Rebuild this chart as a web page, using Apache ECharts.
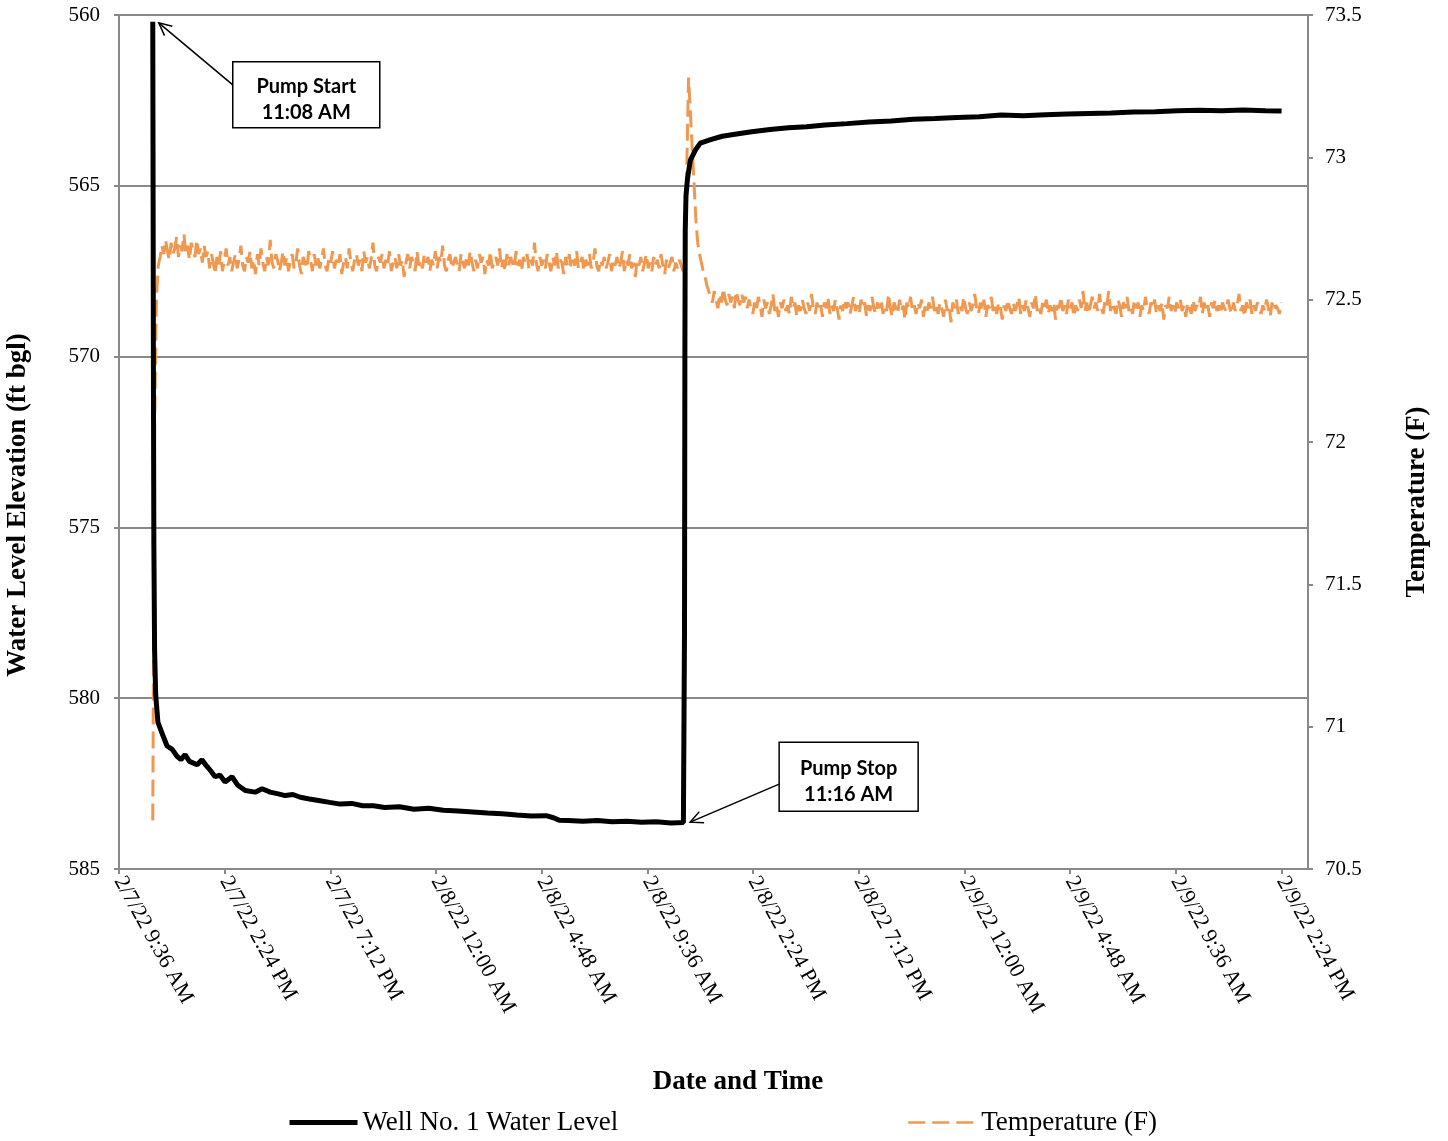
<!DOCTYPE html>
<html>
<head>
<meta charset="utf-8">
<script src="https://cdn.jsdelivr.net/npm/echarts@6/dist/echarts.min.js"></script>
<style>
  html, body { margin: 0; padding: 0; background: #fff; }
  #main { width: 1448px; height: 1141px; }
</style>
</head>
<body>
<div id="main"></div>
<script>
// time in minutes after 2/7/22 12:00 AM
var levelTime = [668, 669, 670, 671, 673, 676, 682, 696, 707, 721, 734, 745, 756, 768, 789, 802, 812, 824, 838, 851,
  865, 884, 900, 920, 947, 966, 988, 1010, 1029, 1050, 1070, 1095, 1124, 1150, 1179, 1210, 1240, 1270, 1300, 1340,
  1380, 1420, 1460, 1500, 1540, 1580, 1620, 1660, 1700, 1740, 1760, 1775, 1800, 1840, 1880, 1920, 1960, 2000, 2040, 2080,
  2114, 2116, 2117, 2118, 2119, 2121, 2125, 2133, 2147, 2160, 2188, 2220, 2250, 2300, 2350, 2400, 2450, 2500, 2560, 2620,
  2680, 2740, 2800, 2860, 2920, 2980, 3040, 3100, 3160, 3220, 3280, 3340, 3400, 3460, 3520, 3580, 3640, 3700, 3744];
var levelValue = [560.2, 565.5, 571.5, 575.5, 578.6, 579.9, 580.7, 581.1, 581.4, 581.5, 581.7, 581.8, 581.65, 581.85, 581.95, 581.8, 581.95, 582.1, 582.3, 582.25,
  582.45, 582.3, 582.55, 582.7, 582.75, 582.65, 582.75, 582.8, 582.85, 582.82, 582.9, 582.95, 583.0, 583.05, 583.1, 583.08, 583.15, 583.15, 583.2, 583.18,
  583.25, 583.22, 583.28, 583.3, 583.33, 583.36, 583.38, 583.42, 583.45, 583.44, 583.5, 583.57, 583.58, 583.6, 583.58, 583.62, 583.6, 583.63, 583.62, 583.65,
  583.64, 583.6, 578.0, 570.0, 566.3, 565.3, 564.8, 564.25, 563.95, 563.75, 563.65, 563.55, 563.5, 563.42, 563.35, 563.3, 563.27, 563.22, 563.18, 563.13,
  563.1, 563.05, 563.03, 563.0, 562.98, 562.93, 562.95, 562.92, 562.9, 562.88, 562.87, 562.84, 562.83, 562.8, 562.79, 562.8, 562.78, 562.8, 562.81];

// temperature logger: first reading at 11:08 AM, one reading every 5 minutes
var tempStart = 668;
var tempStep = 5;
var tempValue = [70.67, 72.05, 72.50, 72.62,
  72.65, 72.69, 72.66, 72.71, 72.67, 72.64, 72.70, 72.66, 72.68, 72.72, 72.65, 72.69, 72.67, 72.73, 72.66, 72.69, 72.64, 72.70, 72.67, 72.65,
  72.71, 72.66, 72.68, 72.63, 72.69, 72.65, 72.67,
  72.61, 72.66, 72.63, 72.59, 72.65, 72.62, 72.67, 72.60, 72.64, 72.68, 72.62, 72.65, 72.60, 72.63, 72.66, 72.61, 72.64, 72.69, 72.62, 72.60,
  72.65, 72.63, 72.67, 72.61, 72.64, 72.59, 72.66, 72.62, 72.68, 72.63, 72.60, 72.65, 72.62, 72.71, 72.63, 72.61, 72.66, 72.64, 72.60, 72.63,
  72.67, 72.62, 72.65, 72.60, 72.64, 72.66, 72.61, 72.63, 72.68, 72.62, 72.59, 72.65, 72.63, 72.61, 72.67, 72.64, 72.60, 72.66, 72.62, 72.65,
  72.61, 72.64, 72.68, 72.62, 72.60, 72.65, 72.63, 72.67, 72.61, 72.64, 72.62, 72.66, 72.59, 72.63, 72.65, 72.61, 72.68, 72.63, 72.60, 72.64,
  72.66, 72.62, 72.64, 72.60, 72.67, 72.63, 72.65, 72.61, 72.64, 72.70, 72.62, 72.60, 72.65, 72.63, 72.66, 72.61, 72.64, 72.62, 72.67, 72.60,
  72.63, 72.65, 72.61, 72.66, 72.62, 72.64, 72.58, 72.63, 72.66, 72.61, 72.65, 72.63, 72.60, 72.67, 72.62, 72.64, 72.61, 72.66, 72.63, 72.65,
  72.60, 72.64, 72.62, 72.67, 72.61, 72.65, 72.63, 72.69, 72.62, 72.60, 72.64, 72.66, 72.61, 72.63, 72.65, 72.62, 72.60, 72.66, 72.63, 72.61,
  72.65, 72.62, 72.67, 72.63, 72.60, 72.64, 72.61, 72.66, 72.63, 72.65, 72.59, 72.64, 72.62, 72.67, 72.61, 72.63, 72.65, 72.62, 72.68, 72.61,
  72.64, 72.60, 72.66, 72.62, 72.65, 72.63, 72.61, 72.67, 72.62, 72.64, 72.60, 72.65, 72.63, 72.66, 72.61, 72.64, 72.62, 72.70, 72.63, 72.60,
  72.65, 72.62, 72.64, 72.61, 72.66, 72.63, 72.60, 72.65, 72.62, 72.67, 72.61, 72.64, 72.63, 72.59, 72.65, 72.62, 72.66, 72.61, 72.64, 72.62,
  72.67, 72.61, 72.63, 72.65, 72.60, 72.64, 72.62, 72.66, 72.61, 72.63, 72.68, 72.62, 72.60, 72.64, 72.62, 72.65, 72.61, 72.63, 72.66, 72.60,
  72.64, 72.62, 72.65, 72.61, 72.63, 72.67, 72.60, 72.64, 72.62, 72.66, 72.61, 72.63, 72.58, 72.64, 72.62, 72.65, 72.60, 72.63, 72.66, 72.61,
  72.63, 72.60, 72.65, 72.62, 72.64, 72.61, 72.66, 72.62, 72.59, 72.64, 72.61, 72.63, 72.65, 72.60, 72.63, 72.61, 72.64, 72.62, 72.60,
  72.62,
  72.95, 73.28, 73.16, 73.03, 72.91, 72.78, 72.70, 72.66, 72.63, 72.60, 72.58, 72.55, 72.53, 72.51,
  72.49, 72.53, 72.50, 72.47, 72.52, 72.49, 72.54, 72.50, 72.48, 72.52, 72.49, 72.51, 72.47, 72.53, 72.50, 72.48, 72.52, 72.49, 72.51, 72.47,
  72.50, 72.47, 72.45, 72.49, 72.46, 72.51, 72.48, 72.44, 72.50, 72.47, 72.49, 72.45, 72.48, 72.52, 72.46, 72.48, 72.44, 72.49, 72.47, 72.50,
  72.46, 72.48, 72.45, 72.51, 72.47, 72.49, 72.44, 72.48, 72.46, 72.50, 72.47, 72.45, 72.49, 72.46, 72.52, 72.47, 72.45, 72.49, 72.46, 72.48,
  72.44, 72.49, 72.47, 72.51, 72.45, 72.48, 72.46, 72.50, 72.47, 72.43, 72.48, 72.46, 72.50, 72.47, 72.49, 72.45, 72.48, 72.51, 72.46, 72.48,
  72.45, 72.50, 72.47, 72.49, 72.44, 72.48, 72.46, 72.51, 72.47, 72.45, 72.49, 72.47, 72.50, 72.45, 72.48, 72.46, 72.52, 72.47, 72.44, 72.49,
  72.47, 72.45, 72.50, 72.46, 72.48, 72.43, 72.49, 72.47, 72.51, 72.46, 72.48, 72.45, 72.49, 72.47, 72.50, 72.44, 72.48, 72.46, 72.49, 72.47,
  72.51, 72.46, 72.48, 72.45, 72.49, 72.47, 72.44, 72.50, 72.46, 72.48, 72.42, 72.49, 72.47, 72.50, 72.45, 72.48, 72.46, 72.51, 72.47, 72.45,
  72.49, 72.46, 72.48, 72.52, 72.47, 72.45, 72.49, 72.46, 72.50, 72.44, 72.48, 72.47, 72.51, 72.46, 72.48, 72.45, 72.49, 72.47, 72.43, 72.48,
  72.46, 72.50, 72.47, 72.45, 72.49, 72.46, 72.48, 72.51, 72.45, 72.48, 72.46, 72.50, 72.47, 72.44, 72.49, 72.47, 72.52, 72.46, 72.48, 72.45,
  72.49, 72.47, 72.50, 72.45, 72.48, 72.46, 72.49, 72.43, 72.48, 72.47, 72.51, 72.46, 72.48, 72.45, 72.50, 72.47, 72.49, 72.44, 72.48, 72.46,
  72.50, 72.47, 72.53, 72.46, 72.49, 72.45, 72.48, 72.51, 72.47, 72.49, 72.46, 72.52, 72.47, 72.45, 72.50, 72.48, 72.53, 72.46, 72.49, 72.47,
  72.45, 72.50, 72.48, 72.44, 72.49, 72.47, 72.51, 72.46, 72.48, 72.45, 72.50, 72.47, 72.49, 72.44, 72.48, 72.46, 72.51, 72.47, 72.45, 72.49,
  72.47, 72.50, 72.45, 72.48, 72.46, 72.49, 72.43, 72.48, 72.47, 72.51, 72.46, 72.48, 72.45, 72.49, 72.47, 72.50, 72.46, 72.48, 72.44, 72.49,
  72.47, 72.45, 72.50, 72.46, 72.48, 72.47, 72.51, 72.45, 72.49, 72.46, 72.48, 72.44, 72.49, 72.47, 72.50, 72.46, 72.48, 72.45, 72.49, 72.47,
  72.46, 72.50, 72.47, 72.45, 72.49, 72.46, 72.48, 72.52, 72.46, 72.48, 72.44, 72.49, 72.47, 72.50, 72.45, 72.48, 72.46, 72.49, 72.47, 72.45,
  72.48, 72.46, 72.50, 72.47, 72.44, 72.49, 72.46, 72.48, 72.47, 72.45, 72.49];

// annotations: [label, time of day, time, level]
var notes = [
  ['Pump Start', '11:08 AM', 668, 560.2],
  ['Pump Stop', '11:16 AM', 2116, 583.6]
];

var serif = 'Liberation Serif';
var grey = '#898989';
var orange = '#F09850';

function fmtTime(m) {
  if (m % 288 !== 0) return '';
  var day = 7 + Math.floor(m / 1440);
  var mm = m % 1440;
  var h = Math.floor(mm / 60), mi = mm % 60;
  var ap = h < 12 ? 'AM' : 'PM';
  var h12 = h % 12 === 0 ? 12 : h % 12;
  return '2/' + day + '/22 ' + h12 + ':' + (mi < 10 ? '0' + mi : mi) + ' ' + ap;
}

var levelData = levelTime.map(function (t, i) { return [t, levelValue[i]]; });
var tempData = tempValue.map(function (v, i) { return [tempStart + i * tempStep, v]; });

var myChart = echarts.init(document.getElementById('main'));

var option = {
  animation: false,
  grid: { left: 119, right: 140, top: 15, bottom: 272 },
  xAxis: {
    type: 'value',
    min: 576,
    max: 3816,
    interval: 288,
    axisLine: { onZero: false, lineStyle: { color: grey, width: 2 } },
    axisTick: { show: true, length: 5, lineStyle: { color: grey, width: 2 } },
    axisLabel: {
      rotate: -61,
      margin: 9,
      color: '#000',
      fontFamily: serif,
      fontSize: 22,
      formatter: fmtTime,
      showMaxLabel: false
    },
    splitLine: { show: false }
  },
  yAxis: [{
    type: 'value',
    inverse: true,
    min: 560,
    max: 585,
    interval: 5,
    axisLine: { show: true, lineStyle: { color: grey, width: 2 } },
    axisTick: { show: true, length: 5, lineStyle: { color: grey, width: 2 } },
    axisLabel: { color: '#000', fontFamily: serif, fontSize: 21, margin: 19 },
    splitLine: { show: true, lineStyle: { color: grey, width: 2 } }
  }, {
    type: 'value',
    position: 'right',
    min: 70.5,
    max: 73.5,
    interval: 0.5,
    axisLine: { show: true, lineStyle: { color: grey, width: 2 } },
    axisTick: { show: true, length: 5, lineStyle: { color: grey, width: 2 } },
    axisLabel: { color: '#000', fontFamily: serif, fontSize: 21, margin: 17 },
    splitLine: { show: false }
  }],
  legend: [{
    data: ['Well No. 1 Water Level'],
    left: 282,
    top: 1104,
    itemWidth: 68,
    itemHeight: 14,
    itemStyle: { opacity: 0 },
    lineStyle: { width: 5 },
    textStyle: { fontFamily: serif, fontSize: 27, color: '#000' }
  }, {
    data: ['Temperature (F)'],
    left: 902,
    top: 1104,
    itemWidth: 68,
    itemHeight: 14,
    itemStyle: { opacity: 0 },
    lineStyle: { width: 2.5, type: [17, 7] },
    textStyle: { fontFamily: serif, fontSize: 27, color: '#000' }
  }],
  series: [{
    name: 'Temperature (F)',
    type: 'line',
    yAxisIndex: 1,
    data: tempData,
    symbol: 'none',
    color: orange,
    lineStyle: { color: orange, width: 3, type: [17, 7] },
    z: 2
  }, {
    name: 'Well No. 1 Water Level',
    type: 'line',
    yAxisIndex: 0,
    data: levelData,
    symbol: 'none',
    color: '#000',
    lineStyle: { color: '#000', width: 5 },
    z: 3
  }]
};

myChart.setOption(option);

// axis titles and the two pump call-outs
var g = [
  { type: 'text', x: 18, y: 505, rotation: Math.PI / 2,
    style: { text: 'Water Level Elevation (ft bgl)', font: 'bold 27px ' + serif, fill: '#000', align: 'center', verticalAlign: 'middle' } },
  { type: 'text', x: 1417, y: 502, rotation: Math.PI / 2,
    style: { text: 'Temperature (F)', font: 'bold 27px ' + serif, fill: '#000', align: 'center', verticalAlign: 'middle' } },
  { type: 'text', x: 738, y: 1082,
    style: { text: 'Date and Time', font: 'bold 27px ' + serif, fill: '#000', align: 'center', verticalAlign: 'middle' } }
];

var boxOffset = [[74, 39, 147, 66, 0, 23], [89, -80, 139, 69, 0, 42]];
notes.forEach(function (n, k) {
  var p = myChart.convertToPixel({ xAxisIndex: 0, yAxisIndex: 0 }, [n[2], n[3]]);
  var tip = [p[0] + 6, p[1] + 1];
  var o = boxOffset[k];
  var bx = tip[0] + o[0], by = tip[1] + o[1];
  var from = [bx, by + o[5]];
  var ang = Math.atan2(from[1] - tip[1], from[0] - tip[0]);
  var L = 14, a = 0.45;
  g.push({ type: 'line', shape: { x1: from[0], y1: from[1], x2: tip[0], y2: tip[1] }, style: { stroke: '#000', lineWidth: 1.5 } });
  g.push({ type: 'polyline', shape: { points: [
      [tip[0] + L * Math.cos(ang - a), tip[1] + L * Math.sin(ang - a)],
      tip,
      [tip[0] + L * Math.cos(ang + a), tip[1] + L * Math.sin(ang + a)]] },
    style: { stroke: '#000', lineWidth: 1.5, fill: null } });
  g.push({ type: 'rect', shape: { x: bx, y: by, width: o[2], height: o[3] }, style: { fill: '#fff', stroke: '#000', lineWidth: 1.5 } });
  g.push({ type: 'text', x: bx + o[2] / 2, y: by + o[3] / 2 + 5,
    style: { text: n[0] + '\n' + n[1], font: 'bold 20px Lato', lineHeight: 26, fill: '#000', align: 'center', verticalAlign: 'middle' } });
});

myChart.setOption({ graphic: g });
</script>
</body>
</html>
